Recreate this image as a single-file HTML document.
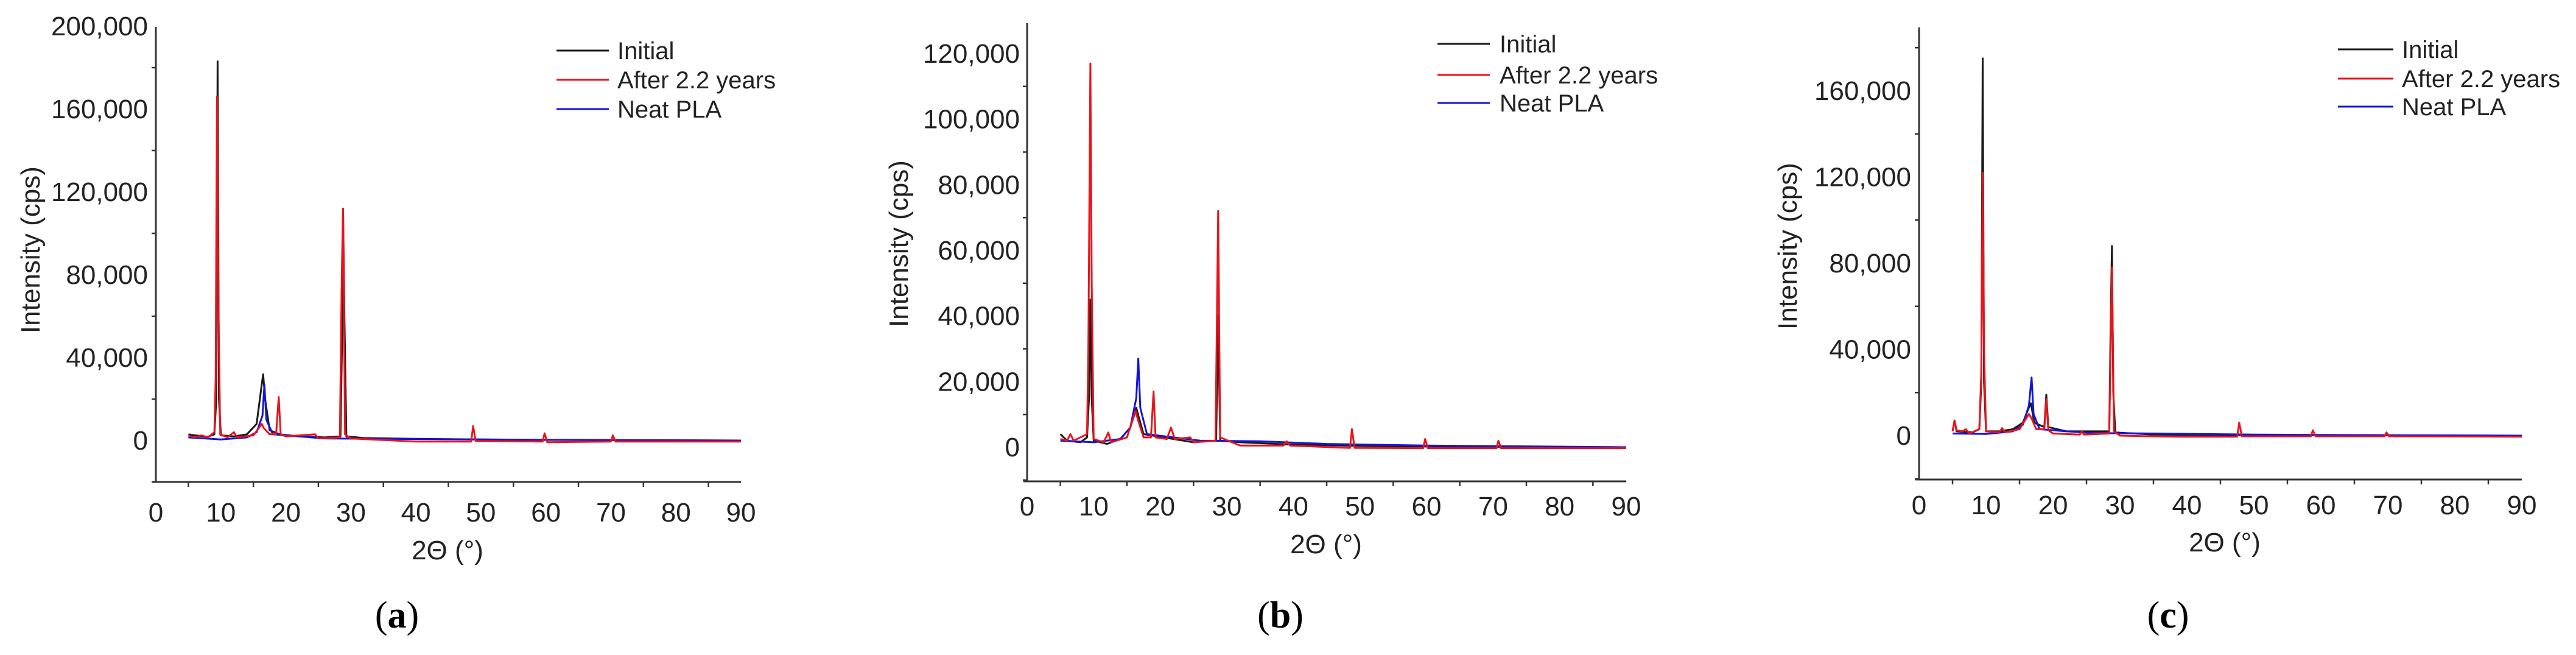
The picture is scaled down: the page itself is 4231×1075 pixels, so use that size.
<!DOCTYPE html>
<html><head><meta charset="utf-8"><style>
html,body{margin:0;padding:0;background:#fff;}
svg{display:block;}
text{font-family:"Liberation Sans",sans-serif;fill:#222;}
.cap{font-family:"Liberation Serif",serif;fill:#000;}
</style></head><body>
<svg id="fig" width="4231" height="1075" viewBox="0 0 4231 1075" xmlns="http://www.w3.org/2000/svg"></svg>
<script>
// ---- data ----
const xTickLabels = [0,10,20,30,40,50,60,70,80,90];
const xMinorTicks = [5,15,25,35,45,55,65,75,85];
const legendLabels = ["Initial","After 2.2 years","Neat PLA"];
const seriesColors = ["#1a1a1a","#e8141c","#1414d8"];

const aYLabels = [0,40000,80000,120000,160000,200000];
const aYMinor = [-20000,20000,60000,100000,140000,180000];
const aInitial = [[5,3000],[6,2500],[8,1800],[9,3000],[9.3,20000],[9.5,183000],[9.7,20000],[10,2500],[12,2000],[14,3000],[15.5,8000],[16.2,25000],[16.5,32000],[16.8,20000],[17.5,5000],[19,3000],[22,2000],[26,1500],[28.4,2000],[28.7,60000],[28.8,110000],[29,60000],[29.3,2000],[32,1200],[40,800],[50,500],[60,300],[70,200],[90,0]];
const aAfter = [[5,2500],[6,1500],[7,2500],[8,1500],[9,4000],[9.2,30000],[9.4,166000],[9.6,70000],[9.9,3000],[11,1500],[12,4000],[12.5,1500],[15,2500],[16.3,8000],[16.6,6000],[17.5,3000],[18.5,3000],[18.9,21000],[19.2,3000],[20,2000],[24.5,3000],[25,1000],[28.3,1500],[28.6,80000],[28.8,112000],[29.1,3000],[30,1000],[40,-500],[48.5,-500],[48.8,7000],[49.2,-200],[59.5,-500],[59.8,3500],[60.2,-800],[70,-500],[70.3,2500],[70.7,-500],[90,-500]];
const aNeat = [[5,1500],[10,500],[14,1500],[15.5,4000],[16.4,12000],[16.7,27000],[17,10000],[18,3000],[22,2000],[26,1000],[35,800],[50,500],[70,200],[90,0]];

const bYLabels = [0,20000,40000,60000,80000,100000,120000];
const bYMinor = [-10000,10000,30000,50000,70000,90000,110000];
const bInitial = [[5,4000],[6,2000],[8,1500],[9,3000],[9.3,15000],[9.5,45000],[9.7,15000],[10,2000],[12,1000],[14,2500],[15.5,6000],[16.4,12000],[16.8,9000],[17.5,4000],[19,3500],[22,2500],[25,1500],[28.4,2000],[28.7,40000],[29,2000],[32,1500],[40,800],[50,400],[60,200],[90,0]];
const bAfter = [[5,2500],[6,2000],[6.5,4000],[7,2000],[9,4000],[9.2,30000],[9.5,117000],[9.7,50000],[10,2500],[11.5,1500],[12.2,4500],[12.6,1500],[15,3000],[16.3,11000],[16.7,8000],[17.5,3000],[18.6,3000],[19,17000],[19.3,3000],[21,2500],[21.6,6000],[22.2,2500],[24.5,3000],[25,1500],[28.3,2000],[28.7,72000],[29,3000],[32,500],[38.5,500],[39,1800],[39.5,500],[48.5,-200],[48.8,5500],[49.2,-200],[59.5,-300],[59.8,2500],[60.2,-300],[70.5,-300],[70.8,2000],[71.2,-300],[90,-300]];
const bNeat = [[5,2000],[10,1500],[14,2500],[15.5,6000],[16.4,15000],[16.7,27000],[17,12000],[18,4000],[22,3000],[26,2000],[35,1800],[45,1000],[60,500],[90,0]];

const cYLabels = [0,40000,80000,120000,160000];
const cYMinor = [-20000,20000,60000,100000,140000,180000];
const cInitial = [[5,2000],[5.3,7000],[5.6,2000],[8,1500],[9,3000],[9.3,25000],[9.5,175000],[9.7,25000],[10,2000],[12,2000],[14,3000],[15.5,6000],[16.4,13000],[16.7,15000],[17.2,6000],[18.7,4000],[19,19000],[19.3,4000],[22,2000],[28.4,2000],[28.6,50000],[28.8,88000],[29,20000],[29.3,1500],[35,500],[50,200],[90,0]];
const cAfter = [[5,2000],[5.3,7000],[5.6,2500],[6.5,2000],[7,3000],[7.5,1000],[9,3000],[9.3,30000],[9.5,122000],[9.7,40000],[10,2000],[12,1500],[12.4,3500],[12.8,1500],[15,3000],[16.4,10000],[16.8,8000],[17.5,3000],[18.7,3000],[19,17000],[19.3,2500],[20,1000],[24,500],[24.3,2000],[24.6,500],[28.4,1000],[28.8,78000],[29.1,2000],[30,0],[38.5,-500],[47.5,-500],[47.8,6000],[48.2,-300],[58.5,-300],[58.8,2500],[59.2,-300],[69.5,-300],[69.8,1500],[70.2,-300],[90,-500]];
const cNeat = [[5,1000],[10,800],[14,2000],[15.5,5000],[16.4,14000],[16.8,27000],[17.1,10000],[18,3000],[22,2000],[26,1200],[35,1000],[50,500],[70,200],[90,0]];

// ---- drawing ----
const NS="http://www.w3.org/2000/svg";
const svg=document.getElementById('fig');
function mk(tag,attrs,parent){const e=document.createElementNS(NS,tag);for(const k in attrs)e.setAttribute(k,attrs[k]);(parent||svg).appendChild(e);return e;}

const panels=[
 {id:'a',x0:256,x1:1217,yTop:44,yBot:791,v0:0,yv0:723,vRef:200000,yvRef:43,yLab:aYLabels,yMin:aYMinor,series:[aInitial,aAfter,aNeat],
  tickRight:243,xLabY:841,xTitle:[735,903],yTitle:[50,410],leg:[914,1000,1014,[83,131,179]],cap:[652,1010]},
 {id:'b',x0:1687,x1:2671,yTop:38,yBot:790,v0:0,yv0:734,vRef:120000,yvRef:88,yLab:bYLabels,yMin:bYMinor,series:[bInitial,bAfter,bNeat],
  tickRight:1675,xLabY:831,xTitle:[2178,893],yTitle:[1476,400],leg:[2361,2447,2463,[72,123,169]],cap:[2103,1010]},
 {id:'c',x0:3152,x1:4142,yTop:45,yBot:787,v0:0,yv0:715,vRef:160000,yvRef:149,yLab:cYLabels,yMin:cYMinor,series:[cInitial,cAfter,cNeat],
  tickRight:3139,xLabY:829,xTitle:[3654,890],yTitle:[2936,404],leg:[3840,3931,3945,[81,129,175]],cap:[3561,1010]}
];

panels.forEach(p=>{
  const g=mk('g',{});
  
  
  const X=v=>p.x0+(p.x1-p.x0)*v/90;
  const Y=v=>p.yv0+(p.yvRef-p.yv0)*(v-p.v0)/(p.vRef-p.v0);
  const ya=mk('line',{x1:p.x0,y1:p.yTop,x2:p.x0,y2:p.yBot,stroke:'#333','stroke-width':3},g);
  
  
  const xa=mk('line',{x1:p.x0-6,y1:p.yBot,x2:p.x1,y2:p.yBot,stroke:'#333','stroke-width':3},g);
  
  
  p.yMin.forEach(v=>{const t=mk('line',{x1:p.x0-7,y1:Y(v),x2:p.x0,y2:Y(v),stroke:'#333','stroke-width':2.5},g);
    
    });
  xMinorTicks.forEach(v=>{const t=mk('line',{x1:X(v),y1:p.yBot,x2:X(v),y2:p.yBot+8,stroke:'#333','stroke-width':2.5},g);
    
    });
  p.yLab.forEach(v=>{const t=mk('text',{x:p.tickRight,y:Y(v)+15,'text-anchor':'end','font-size':44},g);
    t.textContent=v.toLocaleString('en-US');
    
    });
  xTickLabels.forEach(v=>{const t=mk('text',{x:X(v),y:p.xLabY+15,'text-anchor':'middle','font-size':44},g);
    t.textContent=String(v);
    
    });
  const xt=mk('text',{x:p.xTitle[0],y:p.xTitle[1]+15,'text-anchor':'middle','font-size':44},g);
  xt.textContent='2Θ (°)';
  
  
  const yt=mk('text',{x:0,y:0,'text-anchor':'middle','font-size':44,transform:`translate(${p.yTitle[0]+15},${p.yTitle[1]}) rotate(-90)`},g);
  yt.textContent='Intensity (cps)';
  
  
  const order=[0,2,1];
  const names=['series-initial','series-after-2-2-years','series-neat-pla'];
  order.forEach(i=>{
    const d=p.series[i].map((pt,k)=>(k?'L':'M')+X(pt[0]).toFixed(1)+' '+Y(pt[1]).toFixed(1)).join(' ');
    const path=mk('path',{d:d,fill:'none',stroke:seriesColors[i],'stroke-width':3,'stroke-linejoin':'round'},g);
    
    
  });
  legendLabels.forEach((lab,i)=>{
    const ly=p.leg[3][i];
    const l=mk('line',{x1:p.leg[0],y1:ly,x2:p.leg[1],y2:ly,stroke:seriesColors[i],'stroke-width':3},g);
    
    
    const t=mk('text',{x:p.leg[2],y:ly+14,'font-size':40},g);
    t.textContent=lab;
    
    
  });
  const c=mk('text',{x:p.cap[0],y:p.cap[1]+20,'text-anchor':'middle','font-size':62,class:'cap'},g);
  c.innerHTML='(<tspan font-weight="bold">'+p.id+'</tspan>)';
  
  
});
</script>
</body></html>
